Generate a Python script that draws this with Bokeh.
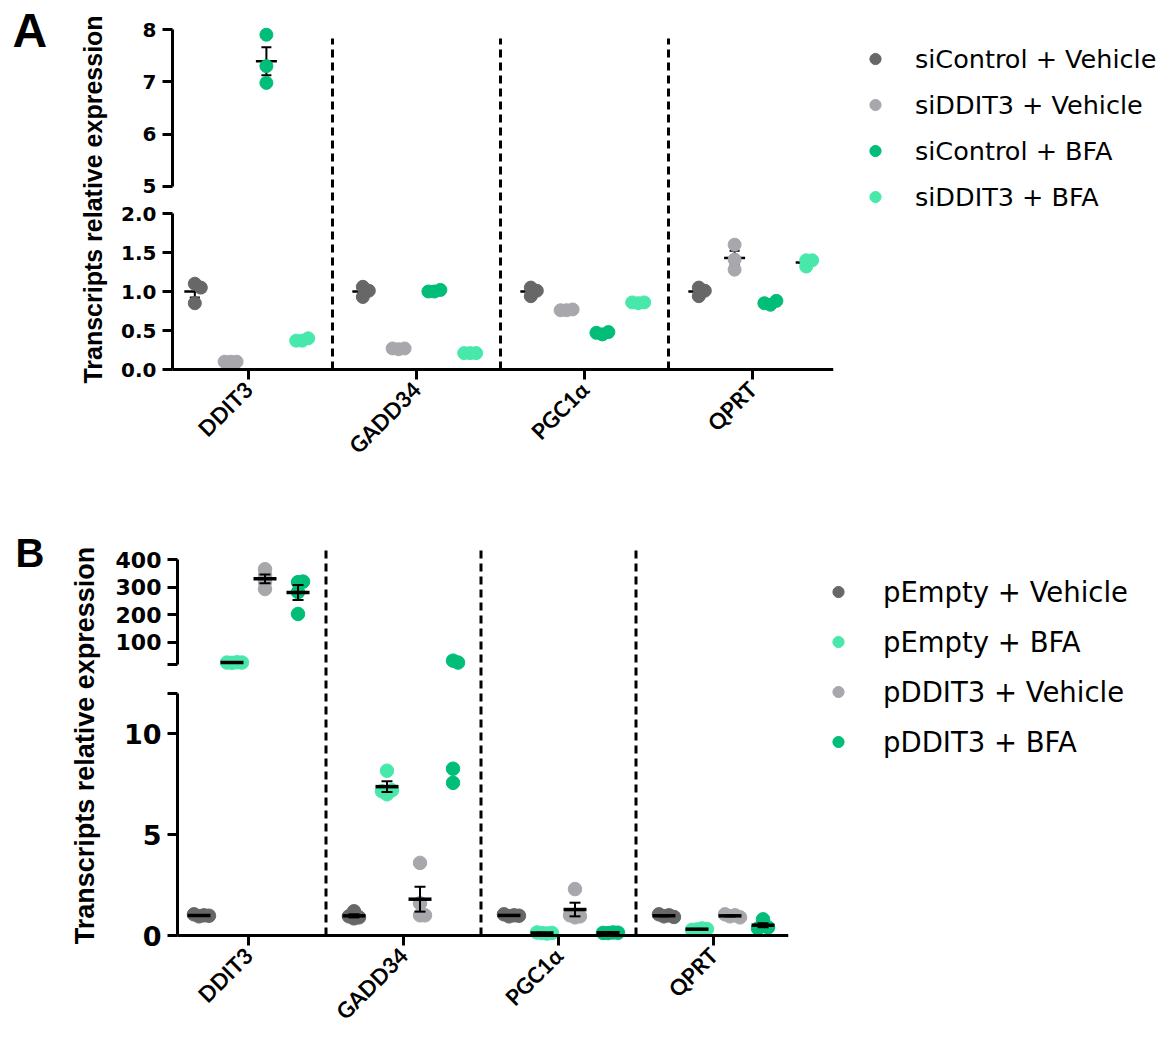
import math
import numpy as np
from bokeh.plotting import figure
from bokeh.models import (Range1d, LinearAxis, FixedTicker, Legend, LegendItem, Label,
                          PrintfTickFormatter)
from bokeh.layouts import column
from bokeh.embed import file_html
from bokeh.resources import INLINE

genes = ["DDIT3", "GADD34", "PGC1α", "QPRT"]

# ---------------- Panel A data ----------------
groups_a = ["siControl + Vehicle", "siDDIT3 + Vehicle", "siControl + BFA", "siDDIT3 + BFA"]
colors_a = ["#676767", "#a8a8ac", "#00bd78", "#48e8ab"]
a_sicontrol_vehicle = [[1.10, 1.05, 0.85], [0.93, 1.06, 1.01], [0.94, 1.05, 1.01], [0.94, 1.05, 1.01]]
a_siddit3_vehicle = [[0.10, 0.10, 0.10], [0.26, 0.27, 0.27], [0.76, 0.77, 0.76], [1.60, 1.41, 1.28]]
a_sicontrol_bfa = [[7.90, 7.30, 6.98], [1.00, 1.02, 1.00], [0.45, 0.48, 0.47], [0.83, 0.88, 0.85]]
a_siddit3_bfa = [[0.37, 0.40, 0.37], [0.21, 0.21, 0.21], [0.85, 0.86, 0.86], [1.32, 1.40, 1.40]]
a_ticks_low = [0, 0.5, 1.0, 1.5, 2.0]
a_ticks_high = [5, 6, 7, 8]

# ---------------- Panel B data ----------------
groups_b = ["pEmpty + Vehicle", "pEmpty + BFA", "pDDIT3 + Vehicle", "pDDIT3 + BFA"]
colors_b = ["#676767", "#48e8ab", "#a8a8ac", "#00bd78"]
b_pempty_vehicle = [[0.95, 1.00, 1.05, 0.98], [0.85, 1.20, 0.90, 0.95], [0.95, 1.00, 1.05, 0.98], [0.95, 1.00, 1.05, 0.92]]
b_pempty_bfa = [[26, 28, 27, 27], [8.17, 7.00, 7.20, 7.15], [0.12, 0.10, 0.15, 0.13], [0.30, 0.35, 0.28, 0.32]]
b_pddit3_vehicle = [[365, 344, 293, 318], [3.6, 1.6, 1.0, 1.0], [2.3, 0.9, 0.95, 1.0], [0.95, 1.00, 1.05, 0.90]]
b_pddit3_bfa = [[318, 320, 282, 203], [34, 27, 8.27, 7.57], [0.12, 0.15, 0.13, 0.14], [0.80, 0.50, 0.40, 0.35]]
b_ticks_low = [0, 5, 10, 12]
b_ticks_high = [20, 100, 200, 300, 400]

YLABEL = "Transcripts relative expression"


def swarm(ypx, step):
    placed, out = [], []
    cands = [0] + [s * j for j in range(1, 8) for s in (1, -1)]
    for y in ypx:
        dx = 0
        for c in cands:
            dx = c * step
            if all((dx - px) ** 2 + (y - py) ** 2 >= step ** 2 - 1e-6 for px, py in placed):
                break
        placed.append((dx, y))
        out.append(dx)
    return out


def style_axis(ax, size, font="DejaVu Sans"):
    ax.axis_line_width = 3
    ax.major_tick_line_width = 3
    ax.major_tick_out = 10
    ax.major_tick_in = 0
    ax.minor_tick_out = 0
    ax.minor_tick_in = 0
    ax.major_label_text_font = font
    ax.major_label_text_font_style = "bold"
    ax.major_label_text_font_size = size
    ax.major_label_text_color = "black"
    ax.axis_line_color = "black"
    ax.major_tick_line_color = "black"
    ax.major_label_standoff = 6


def panel(cfg, groups, colors, series):
    # geometry in pixels relative to this figure's top-left corner
    fw, fh = cfg["fw"], cfg["fh"]
    y0 = cfg["zero_y"]                      # pixel row of value 0 (x-axis line)
    c0, cdx = cfg["cat0"], cfg["catdx"]
    xs, xe = (0 - c0) / cdx, (fw - c0) / cdx
    x_axis_start = (cfg["axis_x"] - c0) / cdx
    x_axis_end = (cfg["axis_x_end"] - c0) / cdx
    lo_ppu = cfg["low_ppu"]
    lo_s, lo_e = -(fh - y0) / lo_ppu, y0 / lo_ppu
    hv, hy, hppu = cfg["high_ref"]
    hi_s, hi_e = hv - (fh - hy) / hppu, hv + hy / hppu

    p = figure(frame_width=fw, frame_height=fh, x_range=Range1d(xs, xe), y_range=Range1d(lo_s, lo_e),
               output_backend="svg", toolbar_location=None, x_axis_location=None, y_axis_location=None,
               min_border_left=0, min_border_top=0, min_border_bottom=0, min_border_right=cfg["br"])
    p.extra_y_ranges = {"high": Range1d(hi_s, hi_e), "px": Range1d(0, fh)}
    p.extra_x_ranges = {"px": Range1d(0, fw)}
    p.grid.visible = False
    p.outline_line_color = None
    p.background_fill_color = "white"
    p.border_fill_color = "white"

    lo_ticks, hi_ticks = cfg["ticks_low"], cfg["ticks_high"]
    lo_top, hi_bot = lo_ticks[-1], hi_ticks[0]

    # x axis (at value 0)
    xa = LinearAxis(ticker=FixedTicker(ticks=list(range(len(genes)))), fixed_location=0,
                    bounds=(x_axis_start, x_axis_end))
    xa.major_label_overrides = {i: g for i, g in enumerate(genes)}
    xa.major_label_orientation = math.pi / 4
    style_axis(xa, cfg["cat_size"], "Lato")
    p.add_layout(xa, "below")

    # lower y-axis segment
    ya = LinearAxis(bounds=(lo_ticks[0], lo_top), ticker=FixedTicker(ticks=lo_ticks), fixed_location=x_axis_start)
    if cfg.get("low_fmt"):
        ya.formatter = PrintfTickFormatter(format=cfg["low_fmt"])
    ya.major_label_overrides = cfg.get("low_over", {})
    style_axis(ya, cfg["low_size"])
    p.add_layout(ya, "left")

    # upper y-axis segment (broken axis)
    yb = LinearAxis(y_range_name="high", bounds=(hi_bot, hi_ticks[-1]), ticker=FixedTicker(ticks=hi_ticks),
                    fixed_location=x_axis_start)
    yb.major_label_overrides = cfg.get("high_over", {})
    style_axis(yb, cfg["high_size"])
    p.add_layout(yb, "left")

    # dashed separators between genes
    seps = [i + 0.5 for i in range(len(genes) - 1)]
    sep_top = (y0 - cfg["sep_top_y"]) / lo_ppu
    p.segment(x0=seps, x1=seps, y0=[0] * len(seps), y1=[sep_top] * len(seps),
              line_dash="8 5", line_width=3, line_color="black")

    def to_px(v, seg):
        s, e = (lo_s, lo_e) if seg == "default" else (hi_s, hi_e)
        return (v - s) * fh / (e - s)

    n = len(groups)
    stats_lines = []
    point_calls = []
    for k, (name, color, data) in enumerate(zip(groups, colors, series)):
        off = (k - (n - 1) / 2) * cfg["dodge"]
        pts = {"default": ([], []), "high": ([], [])}
        for gi, vals in enumerate(data):
            segs = ["high" if v >= hi_bot else "default" for v in vals]
            ypx = [to_px(v, s) for v, s in zip(vals, segs)]
            dxs = swarm(ypx, cfg["step"])
            for v, s, d in zip(vals, segs, dxs):
                pts[s][0].append(gi + off + d / cdx)
                pts[s][1].append(v)
            m = float(np.mean(vals))
            se = float(np.std(vals, ddof=1) / np.sqrt(len(vals)))
            if m >= hi_bot:
                seg = "high"
            elif m <= lo_top:
                seg = "default"
            else:
                continue
            stats_lines.append((gi + off, m, se, seg))
        point_calls.append((name, color, pts))

    def draw_stats():
        hw = cfg["mean_hw"] / cdx
        cw = cfg["cap_hw"] / cdx
        for seg in ("default", "high"):
            rows = [r for r in stats_lines if r[3] == seg]
            if not rows:
                continue
            xc = [r[0] for r in rows]
            mv = [r[1] for r in rows]
            lo = [r[1] - r[2] for r in rows]
            hi = [r[1] + r[2] for r in rows]
            p.segment(x0=[x - hw for x in xc], x1=[x + hw for x in xc], y0=mv, y1=mv,
                      y_range_name=seg, line_width=cfg["mean_w"], line_color="black")
            p.segment(x0=xc, x1=xc, y0=lo, y1=hi, y_range_name=seg, line_width=2, line_color="black")
            p.segment(x0=[x - cw for x in xc], x1=[x + cw for x in xc], y0=hi, y1=hi,
                      y_range_name=seg, line_width=2, line_color="black")
            p.segment(x0=[x - cw for x in xc], x1=[x + cw for x in xc], y0=lo, y1=lo,
                      y_range_name=seg, line_width=2, line_color="black")

    if not cfg["stats_on_top"]:
        draw_stats()
    leg_items = []
    for name, color, pts in point_calls:
        rr = None
        for seg in ("default", "high"):
            xv, yv = pts[seg]
            if not xv:
                continue
            r = p.scatter(x=xv, y=yv, size=cfg["dot"], fill_color=color, line_color=color,
                          y_range_name=seg)
            if rr is None:
                rr = r
        leg_items.append(LegendItem(label=name, renderers=[rr]))
    if cfg["stats_on_top"]:
        draw_stats()

    leg = Legend(items=leg_items, location=cfg["leg_loc"], glyph_width=28, glyph_height=cfg["leg_h"],
                 label_height=cfg["leg_h"], label_standoff=cfg["leg_standoff"], spacing=cfg["leg_spacing"],
                 padding=0, margin=0, border_line_color=None, background_fill_alpha=0,
                 label_text_font="DejaVu Sans", label_text_font_size=cfg["leg_size"],
                 label_text_color="black")
    p.add_layout(leg, "right")

    # y-axis title (spans both segments) and panel letter
    ly = cfg["ylab_xy"]
    p.add_layout(Label(x=ly[0], y=fh - ly[1], x_range_name="px", y_range_name="px", text=YLABEL, angle=math.pi / 2,
                       text_align="center", text_baseline="middle", text_font="Liberation Sans",
                       text_font_style="bold", text_font_size=cfg["ylab_size"], text_color="black"))
    lt = cfg["letter_xy"]
    p.add_layout(Label(x=lt[0], y=fh - lt[1], x_range_name="px", y_range_name="px", text=cfg["letter"],
                       text_font="Liberation Sans", text_font_style="bold", text_font_size=cfg["letter_size"],
                       text_baseline="top", text_align="left", text_color="black"))
    return p


cfg_a = dict(fw=833, fh=526, zero_y=369, cat0=248, catdx=168, axis_x=172, axis_x_end=833,
             low_ppu=78.0, high_ref=(8, 29, 52.33), sep_top_y=38, br=330,
             ticks_low=a_ticks_low, ticks_high=a_ticks_high, low_fmt="%.1f", low_size="20px", high_size="20px",
             cat_size="22px", ylab_size="25px", ylab_xy=(92, 199), dodge=0.213, step=6,
             dot=13, mean_hw=10.5, cap_hw=5, mean_w=2.5, stats_on_top=False, leg_loc=(28, 314), leg_h=31,
             leg_standoff=26, leg_spacing=15, leg_size="25.5px", letter="A", letter_xy=(12, 3),
             letter_size="48px")
cfg_b = dict(fw=788, fh=514, zero_y=409, cat0=248, catdx=155, axis_x=177, axis_x_end=788,
             low_ppu=20.17, high_ref=(400, 33, 0.27632), sep_top_y=22, br=347,
             ticks_low=b_ticks_low, ticks_high=b_ticks_high, low_over={12: ""}, high_over={20: ""},
             low_size="27px", high_size="22px", cat_size="22px", ylab_size="27px", ylab_xy=(84, 219),
             dodge=0.213, step=5, dot=13.5, mean_hw=11.5, cap_hw=5.5, mean_w=3.5,
             stats_on_top=True, leg_loc=(36, 282), leg_h=33, leg_standoff=31, leg_spacing=17, leg_size="27.5px",
             letter="B", letter_xy=(15, 4), letter_size="40px")

pa = panel(cfg_a, groups_a, colors_a, [a_sicontrol_vehicle, a_siddit3_vehicle, a_sicontrol_bfa, a_siddit3_bfa])
pb = panel(cfg_b, groups_b, colors_b, [b_pempty_vehicle, b_pempty_bfa, b_pddit3_vehicle, b_pddit3_bfa])

page = column(pa, pb, spacing=0)
open("out.html", "w").write(file_html(page, INLINE))
